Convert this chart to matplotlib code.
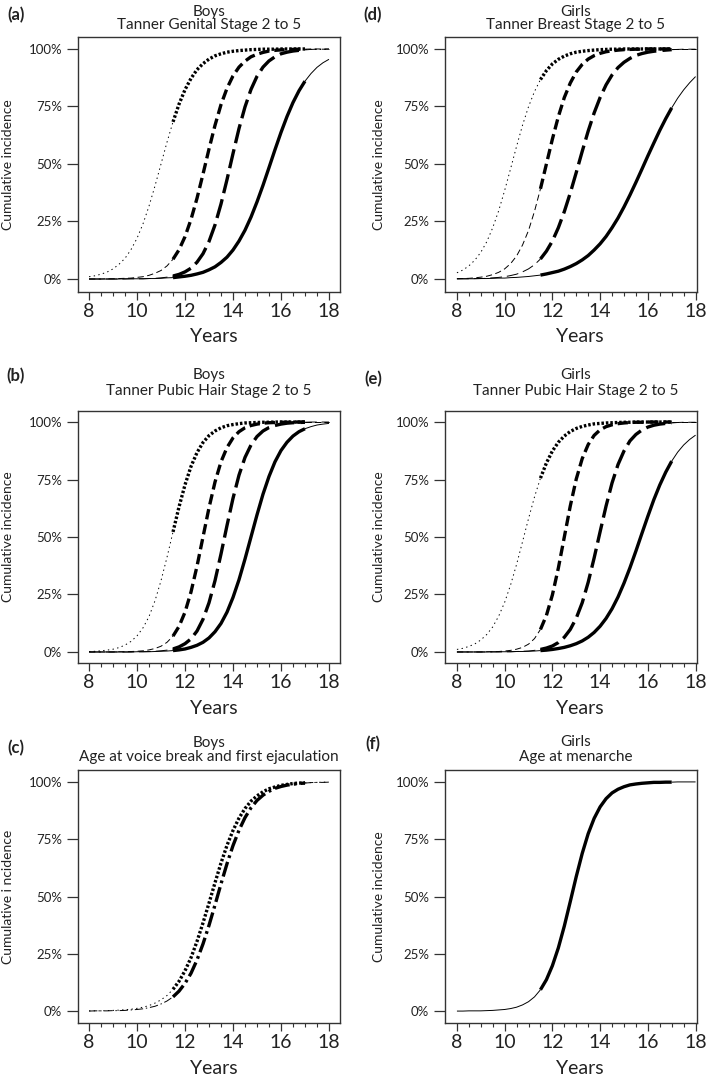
import numpy as np
import matplotlib.pyplot as plt
from matplotlib.ticker import FixedLocator

plt.rcParams['font.family'] = ['Lato', 'DejaVu Sans']
plt.rcParams['lines.scale_dashes'] = False

W, H = 709, 1081
TXT = '#222222'

ages = np.arange(8, 18.01, 0.25)
OBS_START, OBS_END = 11.5, 17.0   # thick part of each curve = observed ages

# (a) boys, Tanner genital stage 2..5 (cumulative incidence, %)
boys_genital_2 = [1.0, 1.4, 2.1, 3.0, 4.4, 6.4, 9.0, 12.8, 17.7, 24.0,
                  31.7, 40.5, 50.0, 59.5, 68.3, 76.0, 82.3, 87.2, 91.0, 93.6,
                  95.6, 97.0, 97.9, 98.6, 99.0, 99.3, 99.5, 99.7, 99.8, 99.9,
                  99.9, 99.9, 100, 100, 100, 100, 100, 100, 100, 100, 100]
boys_genital_3 = [0.0, 0.0, 0.0, 0.1, 0.1, 0.2, 0.3, 0.4, 0.7, 1.0,
                  1.6, 2.5, 3.7, 5.7, 8.6, 12.7, 18.4, 25.9, 35.1, 45.6,
                  56.5, 66.8, 75.8, 82.9, 88.3, 92.1, 94.7, 96.6, 97.7, 98.5,
                  99.1, 99.4, 99.6, 99.7, 99.8, 99.9, 99.9, 100, 100, 100, 100]
boys_genital_4 = [0.0, 0.0, 0.0, 0.0, 0.0, 0.0, 0.0, 0.1, 0.1, 0.1,
                  0.2, 0.3, 0.5, 0.8, 1.3, 2.0, 3.1, 4.7, 7.3, 11.0,
                  16.3, 23.5, 32.6, 43.2, 54.5, 65.4, 74.8, 82.4, 88.1, 92.1,
                  94.8, 96.6, 97.9, 98.6, 99.1, 99.4, 99.6, 99.8, 99.9, 99.9, 99.9]
boys_genital_5 = [0.0, 0.0, 0.0, 0.0, 0.0, 0.0, 0.1, 0.1, 0.1, 0.1,
                  0.2, 0.2, 0.3, 0.5, 0.6, 0.9, 1.2, 1.6, 2.2, 2.9,
                  4.0, 5.3, 7.2, 9.5, 12.6, 16.5, 21.2, 26.9, 33.5, 40.7,
                  48.4, 56.2, 63.7, 70.6, 76.7, 81.8, 86.0, 89.3, 92.0, 94.0, 95.5]

# (b) boys, Tanner pubic hair stage 2..5
boys_pubic_2 = [0.2, 0.3, 0.5, 0.8, 1.2, 1.9, 3.0, 4.6, 7.0, 10.5,
                15.4, 22.3, 31.0, 41.2, 52.2, 63.1, 72.7, 80.7, 86.7, 91.1,
                94.1, 96.1, 97.5, 98.4, 98.9, 99.3, 99.6, 99.7, 99.8, 99.9,
                99.9, 100, 100, 100, 100, 100, 100, 100, 100, 100, 100]
boys_pubic_3 = [0.0, 0.0, 0.0, 0.0, 0.0, 0.1, 0.1, 0.2, 0.3, 0.5,
                0.9, 1.5, 2.5, 4.2, 6.9, 11.1, 17.3, 26.1, 37.3, 50.0,
                62.7, 73.9, 82.7, 88.9, 93.1, 95.8, 97.5, 98.5, 99.1, 99.5,
                99.7, 99.8, 99.9, 99.9, 100, 100, 100, 100, 100, 100, 100]
boys_pubic_4 = [0.0, 0.0, 0.0, 0.0, 0.0, 0.0, 0.0, 0.0, 0.1, 0.1,
                0.2, 0.3, 0.5, 0.8, 1.3, 2.2, 3.6, 5.7, 9.1, 14.2,
                21.4, 31.0, 42.6, 55.0, 66.8, 76.9, 84.6, 90.0, 93.7, 96.1,
                97.6, 98.5, 99.1, 99.5, 99.7, 99.8, 99.9, 100, 100, 100, 100]
boys_pubic_5 = [0.0, 0.0, 0.0, 0.0, 0.0, 0.0, 0.0, 0.0, 0.1, 0.1,
                0.1, 0.2, 0.3, 0.4, 0.6, 0.9, 1.3, 2.0, 2.9, 4.2,
                6.1, 8.8, 12.4, 17.3, 23.7, 31.4, 40.4, 50.0, 59.6, 68.6,
                76.3, 82.7, 87.6, 91.2, 93.9, 95.8, 97.1, 98.0, 98.7, 99.1, 99.4]

# (c) boys, voice break and first ejaculation
boys_voice = [0.1, 0.1, 0.1, 0.2, 0.3, 0.4, 0.6, 0.8, 1.2, 1.7,
              2.4, 3.5, 4.9, 6.8, 9.5, 13.0, 17.6, 23.3, 30.4, 38.5,
              47.1, 56.0, 64.6, 72.3, 78.8, 84.2, 88.4, 91.6, 93.9, 95.7,
              97.0, 97.8, 98.5, 98.9, 99.3, 99.5, 99.6, 99.7, 99.8, 99.9, 99.9]
boys_ejaculation = [0.0, 0.1, 0.1, 0.1, 0.2, 0.2, 0.3, 0.5, 0.7, 1.0,
                    1.5, 2.1, 3.1, 4.4, 6.2, 8.7, 12.1, 16.5, 22.3, 29.3,
                    37.4, 46.3, 55.5, 64.3, 72.2, 78.9, 84.4, 88.7, 91.9, 94.2,
                    95.9, 97.2, 98.0, 98.6, 99.0, 99.3, 99.5, 99.7, 99.8, 99.8, 99.9]

# (d) girls, Tanner breast stage 2..5
girls_breast_2 = [2.7, 3.9, 5.7, 8.2, 11.6, 16.2, 22.3, 29.7, 38.5, 48.0,
                  57.7, 66.9, 74.9, 81.5, 86.7, 90.6, 93.5, 95.5, 96.9, 97.9,
                  98.6, 99.0, 99.3, 99.5, 99.7, 99.8, 99.9, 99.9, 100, 100,
                  100, 100, 100, 100, 100, 100, 100, 100, 100, 100, 100]
girls_breast_3 = [0.1, 0.2, 0.3, 0.5, 0.8, 1.2, 1.9, 2.9, 4.4, 6.7,
                  10.0, 14.8, 21.1, 29.4, 39.2, 50.0, 60.8, 70.6, 78.9, 85.2,
                  90.0, 93.3, 95.6, 97.1, 98.1, 98.8, 99.2, 99.5, 99.7, 99.8,
                  99.9, 99.9, 100, 100, 100, 100, 100, 100, 100, 100, 100]
girls_breast_4 = [0.1, 0.1, 0.1, 0.2, 0.2, 0.3, 0.5, 0.7, 1.0, 1.5,
                  2.1, 3.1, 4.4, 6.2, 8.7, 12.1, 16.5, 22.3, 29.3, 37.4,
                  46.3, 55.5, 64.3, 72.2, 78.9, 84.4, 88.7, 91.9, 94.2, 95.9,
                  97.2, 98.0, 98.6, 99.0, 99.3, 99.5, 99.7, 99.8, 99.9, 99.9, 99.9]
girls_breast_5 = [0.1, 0.1, 0.1, 0.1, 0.2, 0.2, 0.3, 0.4, 0.4, 0.6,
                  0.7, 0.9, 1.1, 1.4, 1.7, 2.2, 2.8, 3.4, 4.3, 5.4,
                  6.7, 8.3, 10.2, 12.6, 15.3, 18.5, 22.3, 26.5, 31.3, 36.5,
                  42.0, 47.7, 53.5, 59.1, 64.6, 69.7, 74.4, 78.6, 82.2, 85.3, 88.0]

# (e) girls, Tanner pubic hair stage 2..5
girls_pubic_2 = [1.1, 1.6, 2.4, 3.5, 5.2, 7.6, 10.9, 15.6, 21.6, 29.2,
                 38.1, 48.0, 58.0, 67.4, 75.6, 82.2, 87.4, 91.2, 93.9, 95.9,
                 97.2, 98.1, 98.7, 99.2, 99.4, 99.6, 99.7, 99.8, 99.9, 99.9,
                 100, 100, 100, 100, 100, 100, 100, 100, 100, 100, 100]
girls_pubic_3 = [0.0, 0.0, 0.0, 0.0, 0.0, 0.1, 0.1, 0.2, 0.4, 0.7,
                 1.2, 2.0, 3.4, 5.8, 9.8, 15.9, 24.8, 36.5, 50.0, 63.5,
                 75.2, 84.1, 90.2, 94.2, 96.6, 98.0, 98.8, 99.3, 99.6, 99.8,
                 99.9, 99.9, 100, 100, 100, 100, 100, 100, 100, 100, 100]
girls_pubic_4 = [0.0, 0.0, 0.0, 0.0, 0.0, 0.0, 0.0, 0.0, 0.1, 0.1,
                 0.2, 0.3, 0.4, 0.7, 1.1, 1.7, 2.6, 4.1, 6.4, 9.8,
                 14.7, 21.4, 30.3, 40.9, 52.3, 63.5, 73.5, 81.5, 87.4, 91.8,
                 94.6, 96.5, 97.8, 98.6, 99.1, 99.4, 99.6, 99.8, 99.9, 99.9, 99.9]
girls_pubic_5 = [0.0, 0.0, 0.0, 0.0, 0.0, 0.0, 0.1, 0.1, 0.1, 0.1,
                 0.2, 0.2, 0.3, 0.4, 0.6, 0.8, 1.1, 1.5, 2.0, 2.7,
                 3.6, 4.8, 6.4, 8.5, 11.2, 14.6, 18.8, 23.9, 29.9, 36.6,
                 43.9, 51.5, 59.0, 66.2, 72.6, 78.2, 83.0, 86.9, 90.0, 92.4, 94.3]

# (f) girls, menarche
girls_menarche = [0.0, 0.0, 0.1, 0.1, 0.1, 0.2, 0.3, 0.5, 0.7, 1.1,
                  1.7, 2.7, 4.1, 6.2, 9.3, 13.7, 19.8, 27.6, 37.1, 47.8,
                  58.7, 68.8, 77.4, 84.1, 89.1, 92.7, 95.2, 96.8, 97.9, 98.7,
                  99.1, 99.4, 99.6, 99.8, 99.8, 99.9, 99.9, 100, 100, 100, 100]

# dash patterns in points: (thin part, thick part)
STYLES = {
    'dot': ((1.0, 2.4), (1.8, 1.4)),
    'dash': ((4.5, 2.5), (7.5, 3.5)),
    'longdash': ((8.5, 3.5), (14.0, 4.5)),
    'dotdash': ((6.0, 2.0, 1.0, 2.0), (11.0, 3.0, 2.0, 3.0)),
    'solid': (None, None),
}

# pixel layout measured on the reference
COLS = [dict(x0=78, x1=340, xlim=(7.54, 18.46), tx=209, lx=16, yx=8, years_x=214),
        dict(x0=445, x1=697, xlim=(7.5, 18.06), tx=576, lx=373, yx=379, years_x=580)]
ROWS = [dict(y0=37, y1=292, ylim=(-5.65, 105.2), t1=11.7, t2=25.5, years_y=337),
        dict(y0=411, y1=663, ylim=(-4.8, 104.8), t1=375.0, t2=391.0, years_y=709),
        dict(y0=770, y1=1023, ylim=(-5.2, 105.2), t1=742.5, t2=757.0, years_y=1068)]

panels = [
    dict(tag='(a)', col=0, row=0, ly=15, who='Boys', what='Tanner Genital Stage 2 to 5',
         ylabel='Cumulative incidence',
         curves=[(boys_genital_2, 'dot'), (boys_genital_3, 'dash'),
                 (boys_genital_4, 'longdash'), (boys_genital_5, 'solid')]),
    dict(tag='(b)', col=0, row=1, ly=376, who='Boys', what='Tanner Pubic Hair Stage 2 to 5',
         ylabel='Cumulative incidence',
         curves=[(boys_pubic_2, 'dot'), (boys_pubic_3, 'dash'),
                 (boys_pubic_4, 'longdash'), (boys_pubic_5, 'solid')]),
    dict(tag='(c)', col=0, row=2, ly=748, who='Boys', what='Age at voice break and first ejaculation',
         ylabel='Cumulative i ncidence',
         curves=[(boys_voice, 'dot'), (boys_ejaculation, 'dotdash')]),
    dict(tag='(d)', col=1, row=0, ly=15, who='Girls', what='Tanner Breast Stage 2 to 5',
         ylabel='Cumulative incidence',
         curves=[(girls_breast_2, 'dot'), (girls_breast_3, 'dash'),
                 (girls_breast_4, 'longdash'), (girls_breast_5, 'solid')]),
    dict(tag='(e)', col=1, row=1, ly=379, who='Girls', what='Tanner Pubic Hair Stage 2 to 5',
         ylabel='Cumulative incidence',
         curves=[(girls_pubic_2, 'dot'), (girls_pubic_3, 'dash'),
                 (girls_pubic_4, 'longdash'), (girls_pubic_5, 'solid')]),
    dict(tag='(f)', col=1, row=2, ly=744, who='Girls', what='Age at menarche',
         ylabel='Cumulative incidence',
         curves=[(girls_menarche, 'solid')]),
]


def fx(px):
    return px / W


def fy(py):
    return 1 - py / H


def draw_curve(ax, values, style):
    y = np.asarray(values, dtype=float)
    thin, thick = STYLES[style]
    parts = [(ages <= OBS_START, 0.7, thin),
             (ages >= OBS_END, 0.7, thin),
             ((ages >= OBS_START) & (ages <= OBS_END), 2.4, thick)]
    for mask, lw, dash in parts:
        line, = ax.plot(ages[mask], y[mask], color='black', lw=lw,
                        solid_capstyle='butt', dash_capstyle='butt')
        if dash is not None:
            line.set_dashes(dash)


fig = plt.figure(figsize=(W / 100, H / 100), dpi=100)

for p in panels:
    c, r = COLS[p['col']], ROWS[p['row']]
    ax = fig.add_axes([fx(c['x0']), fy(r['y1']),
                       (c['x1'] - c['x0']) / W, (r['y1'] - r['y0']) / H])
    for values, style in p['curves']:
        draw_curve(ax, values, style)

    ax.set_xlim(*c['xlim'])
    ax.set_ylim(*r['ylim'])
    ax.set_xticks([8, 10, 12, 14, 16, 18])
    ax.xaxis.set_minor_locator(FixedLocator(np.arange(8, 18.01, 0.5)))
    ax.set_yticks([0, 25, 50, 75, 100])
    ax.set_yticklabels(['0%', '25%', '50%', '75%', '100%'])
    ax.tick_params(axis='y', length=8, width=0.9, pad=3.5, labelsize=9.5,
                   colors='#333333', labelcolor=TXT)
    ax.tick_params(axis='x', which='major', length=5.5, width=0.9, pad=2.5,
                   labelsize=14, colors='#333333', labelcolor=TXT)
    ax.tick_params(axis='x', which='minor', length=3, width=0.8, colors='#333333')
    for s in ax.spines.values():
        s.set_linewidth(1.0)
        s.set_color('#333333')

    fig.text(fx(c['lx']), fy(p['ly']), p['tag'], ha='center', va='center',
             fontsize=12, fontweight='bold', color=TXT)
    fig.text(fx(c['tx']), fy(r['t1']), p['who'], ha='center', va='center',
             fontsize=11, color=TXT)
    fig.text(fx(c['tx']), fy(r['t2']), p['what'], ha='center', va='center',
             fontsize=11, color=TXT)
    fig.text(fx(c['years_x']), fy(r['years_y']), 'Years', ha='center', va='center',
             fontsize=14, color=TXT)
    fig.text(fx(c['yx']), fy((r['y0'] + r['y1']) / 2), p['ylabel'], ha='center',
             va='center', rotation=90, fontsize=10, color=TXT)

fig.savefig('out.png', dpi=100)
